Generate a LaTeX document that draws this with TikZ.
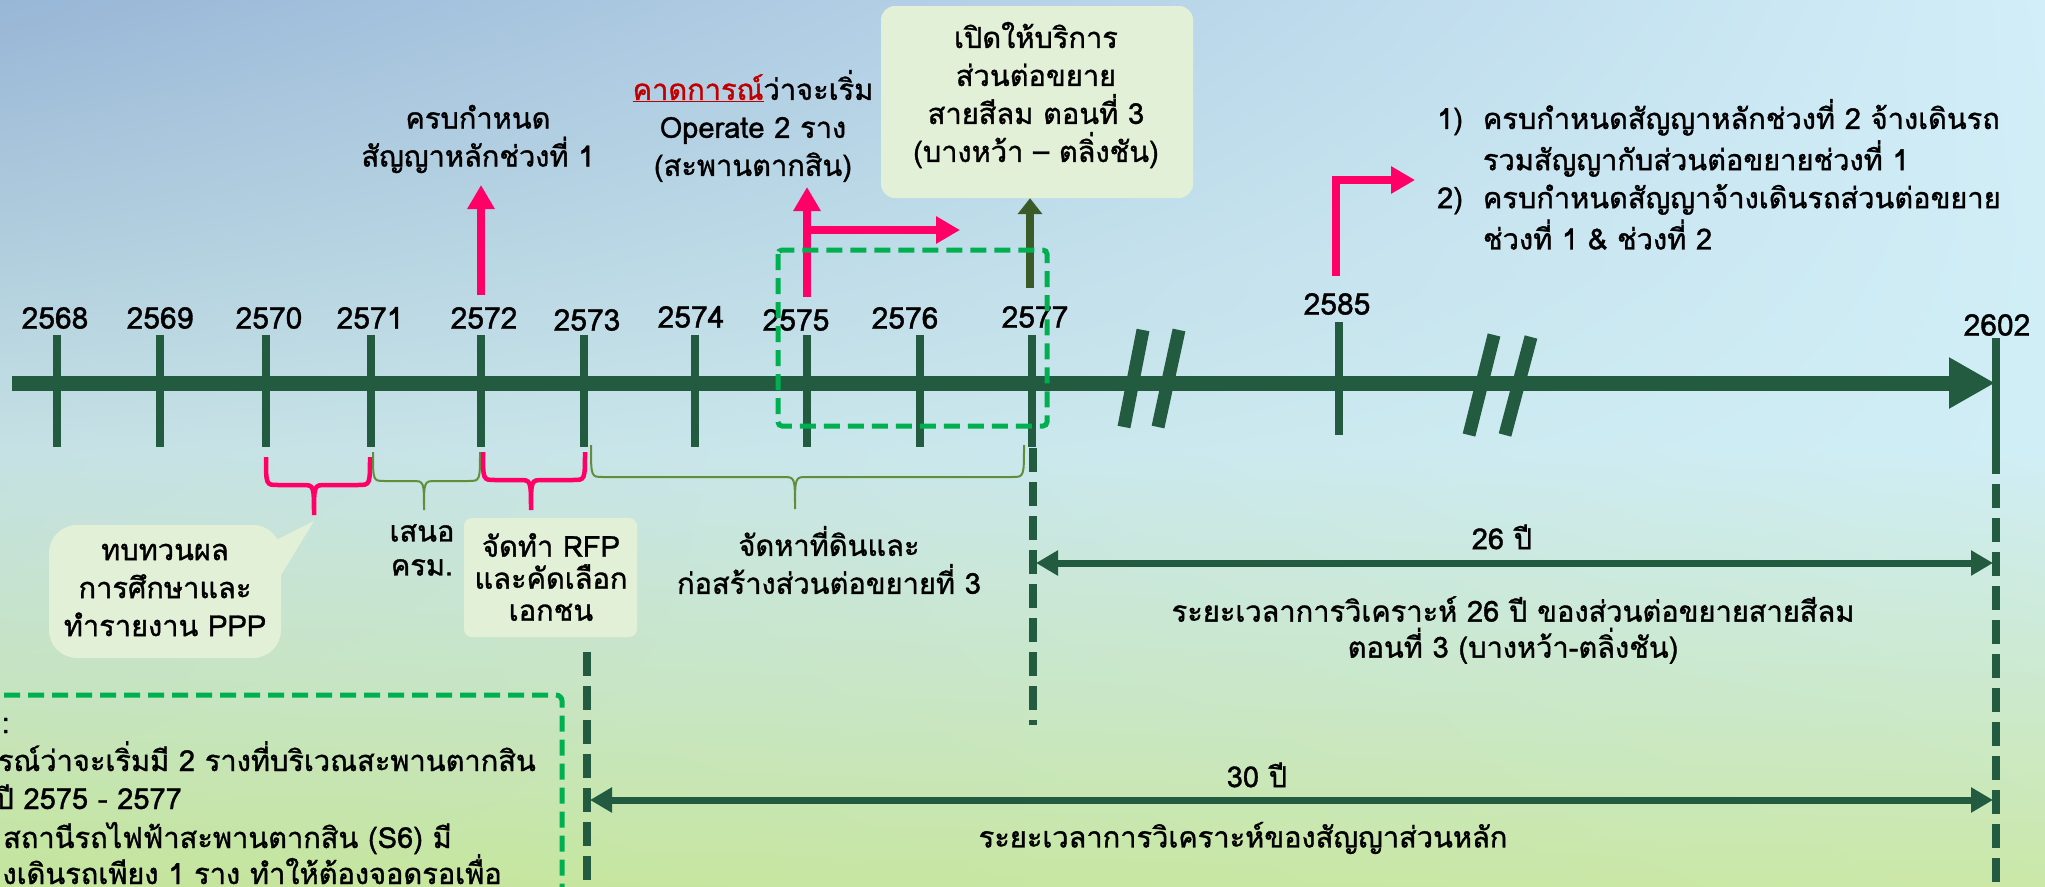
\documentclass[tikz,border=0pt]{standalone}
\usepackage{fontspec}
\setmainfont{Loma}[Script=Thai, FakeBold=1.2]
\usetikzlibrary{arrows.meta,shadings}
\definecolor{barc}{HTML}{225B40}
\definecolor{pinkc}{HTML}{FF0066}
\definecolor{olivec}{HTML}{3A5A27}
\definecolor{bgreen}{HTML}{00B050}
\definecolor{brgreen}{HTML}{5F8F3A}
\definecolor{boxfill}{HTML}{E3F0D8}
\definecolor{redtxt}{HTML}{C00000}
\definecolor{bgA}{HTML}{98B6D6}
\definecolor{bgB}{HTML}{D2EEF8}
\definecolor{bgC}{HTML}{C5E1E4}
\definecolor{bgD}{HTML}{D0EEF6}
\definecolor{bgE}{HTML}{C6E4BE}
\definecolor{bgF}{HTML}{CCE9CC}
\definecolor{bgG}{HTML}{C4E59C}
\definecolor{bgH}{HTML}{CBE8A8}
\tikzset{
 txt/.style={inner sep=0pt, align=center, font=\fontsize{29}{38}\selectfont},
 yr/.style={inner sep=0pt, font=\fontsize{30}{30}\selectfont},
 tick/.style={draw=barc, line width=8pt},
 mainbar/.style={draw=barc, line width=15pt, -{Triangle[length=46pt,width=48pt]}},
 brk/.style={draw=barc, line width=13pt},
 pinkarr/.style={draw=pinkc, line width=8pt, -{Triangle[length=24pt,width=26pt]}},
 olivearr/.style={draw=olivec, line width=8pt, -{Triangle[length=16pt,width=24pt]}},
 dimarr/.style={draw=barc, line width=7pt, {Triangle[length=22pt,width=24pt]}-{Triangle[length=22pt,width=24pt]}},
 vdash/.style={draw=barc, line width=8pt, dash pattern=on 24pt off 10pt},
 gdash/.style={draw=bgreen, line width=5pt, dash pattern=on 16pt off 8pt},
 pbrace/.style={draw=pinkc, line width=4.5pt},
 gbrace/.style={draw=brgreen, line width=2pt},
 gbox/.style={fill=boxfill, inner sep=0pt},
}
\begin{document}
\begin{tikzpicture}[x=1pt,y=-1pt]
\useasboundingbox (0,0) rectangle (2045,886);
\clip (0,0) rectangle (2045,886);
% background
\shade[upper left=bgA, upper right=bgB, lower left=bgC, lower right=bgD] (0,0) rectangle (2045,450);
\shade[upper left=bgC, upper right=bgD, lower left=bgE, lower right=bgF] (0,450) rectangle (2045,700);
\shade[upper left=bgE, upper right=bgF, lower left=bgG, lower right=bgH] (0,700) rectangle (2045,886);

% main axis
\coordinate (barstart) at (12,383);
\coordinate (barend) at (1995,383);
\draw[mainbar] (barstart) -- (barend);

% ticks
\foreach \n/\x in {68/57,69/160,70/266,71/371,72/481,73/584,74/695,75/807,76/920,77/1032}{
  \coordinate (k\n a) at (\x,335); \coordinate (k\n b) at (\x,447);
  \draw[tick] (k\n a) -- (k\n b);}
\coordinate (k85a) at (1339,322); \coordinate (k85b) at (1339,435);
\draw[tick] (k85a) -- (k85b);
\coordinate (k02a) at (1996,338); \coordinate (k02b) at (1996,450);
\draw[tick] (k02a) -- (k02b);

% year labels
\node[yr] (y68) at (55,318) {2568};
\node[yr] (y69) at (160,318) {2569};
\node[yr] (y70) at (269,318) {2570};
\node[yr] (y71) at (370,318) {2571};
\node[yr] (y72) at (484,318) {2572};
\node[yr] (y73) at (587,320) {2573};
\node[yr] (y74) at (691,317) {2574};
\node[yr] (y75) at (796,320) {2575};
\node[yr] (y76) at (905,318) {2576};
\node[yr] (y77) at (1035,317) {2577};
\node[yr] (y85) at (1337,304) {2585};
\node[yr] (y02) at (1997,325) {2602};

% breaks
\draw[brk] (1143,330) -- (1124,427);
\draw[brk] (1179,330) -- (1158,427);
\draw[brk] (1494,335) -- (1469,435);
\draw[brk] (1531,337) -- (1505,435);

% dashed verticals
\coordinate (v77a) at (1033,448); \coordinate (v77b) at (1033,725);
\draw[vdash] (v77a) -- (v77b);
\coordinate (v73a) at (587,652); \coordinate (v73b) at (587,900);
\draw[vdash] (v73a) -- (v73b);
\coordinate (v02a) at (1996,450); \coordinate (v02b) at (1996,900);
\draw[vdash] (v02a) -- (v02b);

% top annotations
\node[txt] (due1) at (478,139) {ครบกำหนด\\สัญญาหลักช่วงที่ 1};
\coordinate (a72) at (481,295);
\draw[pinkarr] (a72) -- (481,185);

\node[txt] (op2) at (753,126) {{\color{redtxt}\underline{คาดการณ์}}ว่าจะเริ่ม\\Operate 2 ราง\\(สะพานตากสิน)};
\coordinate (a75) at (807,297);
\coordinate (a75h) at (807,230);
\coordinate (a75e) at (960,230);
\draw[pinkarr] (a75) -- (807,187);
\draw[pinkarr] (a75h) -- (a75e);

\node[gbox, rounded corners=14pt, minimum width=312pt, minimum height=192pt] (openbox) at (1037,102) {};
\node[txt] (opentxt) at (1036,95) {เปิดให้บริการ\\ส่วนต่อขยาย\\สายสีลม ตอนที่ 3\\(บางหว้า – ตลิ่งชัน)};
\coordinate (a77) at (1030,288);
\draw[olivearr] (a77) -- (a77 |- openbox.south);

\node[txt, anchor=west, align=left] (list) at (1437,180) {%
\begin{tabular}{@{}l@{\hspace{20pt}}l@{}}
1) & ครบกำหนดสัญญาหลักช่วงที่ 2 จ้างเดินรถ\\
   & รวมสัญญากับส่วนต่อขยายช่วงที่ 1\\
2) & ครบกำหนดสัญญาจ้างเดินรถส่วนต่อขยาย\\
   & ช่วงที่ 1 \& ช่วงที่ 2
\end{tabular}};
\coordinate (a85) at (1336,276);
\draw[pinkarr] (a85) |- ([xshift=-22pt]list.west);

% green dashed highlight
\draw[gdash, rounded corners=4pt] (778,250) rectangle (1047,426);

% braces
\draw[pbrace] (266,457) .. controls (266,485) .. (278,485) -- (302,485) .. controls (314,485) .. (314,515) .. controls (314,485) .. (326,485) -- (358,485) .. controls (370,485) .. (370,457);
\draw[gbrace] (373,452) .. controls (373,481) .. (385,481) -- (412,481) .. controls (424,481) .. (424,510) .. controls (424,481) .. (436,481) -- (468,481) .. controls (480,481) .. (480,452);
\draw[pbrace] (483,452) .. controls (483,480) .. (495,480) -- (519,480) .. controls (531,480) .. (531,510) .. controls (531,480) .. (543,480) -- (573,480) .. controls (585,480) .. (585,452);
\draw[gbrace] (591,445) .. controls (591,477) .. (603,477) -- (783,477) .. controls (795,477) .. (795,509) .. controls (795,477) .. (807,477) -- (1012,477) .. controls (1024,477) .. (1024,445);

% bottom annotations
\fill[boxfill] (272,542) -- (314,521) -- (272,590) -- cycle;
\node[gbox, rounded corners=28pt, minimum width=232pt, minimum height=133pt] (ppp) at (165,591.5) {};
\node[txt] (ppptxt) at (165,590) {ทบทวนผล\\การศึกษาและ\\ทำรายงาน PPP};
\node[txt, font=\fontsize{29}{34}\selectfont] (cab) at (422,550) {เสนอ\\ครม.};
\node[gbox, rounded corners=8pt, minimum width=173pt, minimum height=119pt] (rfp) at (550.5,577.5) {};
\node[txt, font=\fontsize{29}{32}\selectfont] (rfptxt) at (551,577) {จัดทำ RFP\\และคัดเลือก\\เอกชน};
\node[txt] (land) at (829,560) {จัดหาที่ดินและ\\ก่อสร้างส่วนต่อขยายที่ 3};

% dimension arrows
\coordinate (d26l) at (1036,563); \coordinate (d26r) at (1993,563);
\draw[dimarr] (d26l) -- (d26r);
\node[txt] (n26) at (1502,537) {26 ปี};
\node[txt, font=\fontsize{29}{36}\selectfont] (n26d) at (1513,630) {ระยะเวลาการวิเคราะห์ 26 ปี ของส่วนต่อขยายสายสีลม\\ตอนที่ 3 (บางหว้า-ตลิ่งชัน)};
\coordinate (d30l) at (590,800); \coordinate (d30r) at (1993,800);
\draw[dimarr] (d30l) -- (d30r);
\node[txt] (n30) at (1257,775) {30 ปี};
\node[txt] (n30d) at (1243,838) {ระยะเวลาการวิเคราะห์ของสัญญาส่วนหลัก};

% note box
\draw[gdash, rounded corners=6pt] (-20,695) -- (562,695) -- (562,900);
\node[txt, anchor=base east] (nt0) at (10,733) {หมายเหตุ :};
\node[txt, anchor=base east] (nt1) at (536,771) {- คาดการณ์ว่าจะเริ่มมี 2 รางที่บริเวณสะพานตากสิน};
\node[txt, anchor=base east] (nt2) at (182,809) {ในปี 2575 - 2577};
\node[txt, anchor=base east] (nt3) at (452,848) {- ปัจจุบัน สถานีรถไฟฟ้าสะพานตากสิน (S6) มี};
\node[txt, anchor=base east] (nt4) at (502,884) {ทางเดินรถเพียง  1 ราง ทำให้ต้องจอดรอเพื่อ};
\end{tikzpicture}
\end{document}
